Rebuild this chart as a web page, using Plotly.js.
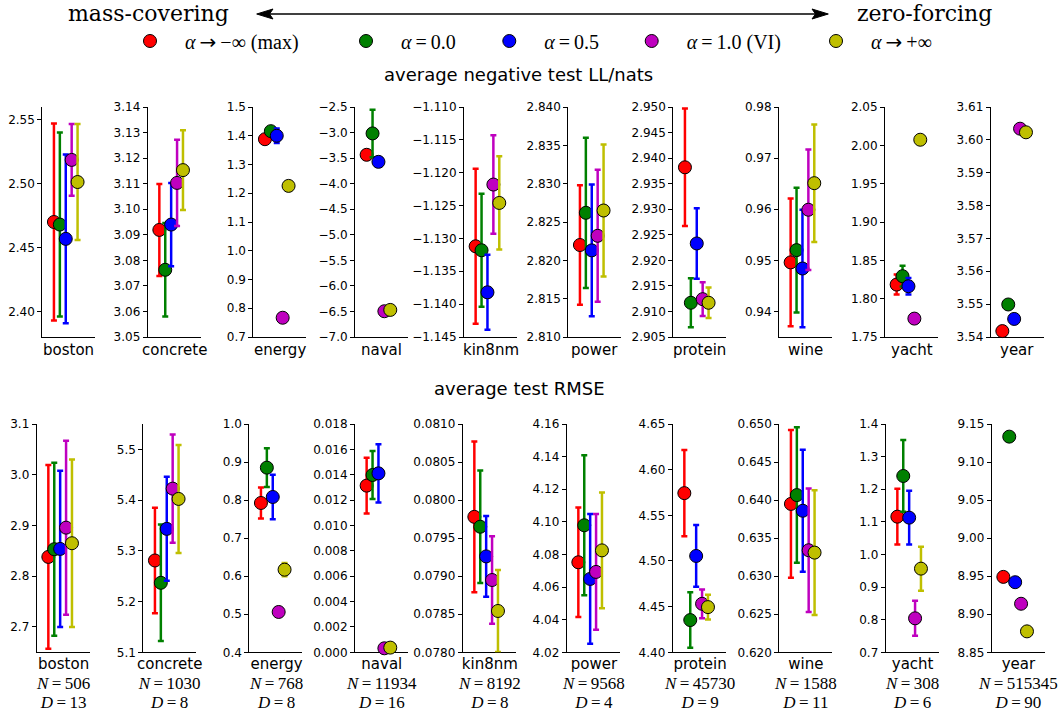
<!DOCTYPE html>
<html><head><meta charset="utf-8">
<script src="https://cdn.plot.ly/plotly-3.0.1.min.js"></script>
<style>html,body{margin:0;padding:0;background:#fff}</style>
</head><body><div id="chart" style="width:1058px;height:713px"></div>
<script>
// ---------------- data ----------------
const datasets = ['boston','concrete','energy','naval','kin8nm','power','protein','wine','yacht','year'];
const sizeN = [506,1030,768,11934,8192,9568,45730,1588,308,515345];
const dimD = [13,8,8,16,8,4,9,11,6,90];
const ARW = '<span style="font-family:DejaVu Sans">→</span>';
const seriesNames = [
  '<i>α</i>\u2009' + ARW + '\u2009−∞ (max)',
  '<i>α</i>\u2009=\u20090.0',
  '<i>α</i>\u2009=\u20090.5',
  '<i>α</i>\u2009=\u20091.0 (VI)',
  '<i>α</i>\u2009' + ARW + '\u2009+∞'
];
const seriesColors = ['#ff0000','#008000','#0000ff','#bf00bf','#bfbf00'];

// average negative test LL / nats
const nllMax    = [2.470, 3.0919, 1.388, -3.435, -1.1312, 2.8220, 2.9382, 0.9496, 1.8184, 3.5418];
const nllMaxErr = [0.077, 0.0180, 0.010, 0.030, 0.0118, 0.0078, 0.0115, 0.0125, 0.0130, 0.0005];
const nll00     = [2.468, 3.0763, 1.416, -3.017, -1.1318, 2.8262, 2.9117, 0.9520, 1.8293, 3.5499];
const nll00Err  = [0.072, 0.0183, 0.012, 0.465, 0.0086, 0.0098, 0.0048, 0.0122, 0.0135, 0.0005];
const nll05     = [2.4568, 3.0940, 1.400, -3.573, -1.1382, 2.8213, 2.9233, 0.9484, 1.8162, 3.5455];
const nll05Err  = [0.066, 0.0163, 0.025, 0.030, 0.0057, 0.0086, 0.0069, 0.0115, 0.0107, 0.0005];
const nllVI     = [2.5186, 3.1103, 0.767, -6.496, -1.1218, 2.8232, 2.9124, 0.9599, 1.774, 3.6034];
const nllVIErr  = [0.028, 0.0169, 0.010, 0.030, 0.0075, 0.0086, 0.0033, 0.0118, 0.005, 0.0005];
const nllInf    = [2.5013, 3.1153, 1.2256, -6.470, -1.1246, 2.8265, 2.9117, 0.9651, 2.0073, 3.6023];
const nllInfErr = [0.0453, 0.0156, 0.010, 0.030, 0.0071, 0.0086, 0.0030, 0.0115, 0.005, 0.0005];

// average test RMSE
const rmseMax    = [2.838, 5.281, 0.7924, 0.01314, 0.07978, 4.0752, 4.5743, 0.6395, 1.1159, 8.9491];
const rmseMaxErr = [0.181, 0.104, 0.041, 0.0022, 0.00099, 0.0336, 0.0473, 0.0097, 0.0855, 0.002];
const rmse00     = [2.8532, 5.237, 0.8853, 0.01398, 0.07965, 4.0979, 4.4353, 0.64066, 1.2406, 9.1334];
const rmse00Err  = [0.1705, 0.1148, 0.051, 0.0019, 0.00074, 0.0429, 0.0304, 0.0089, 0.110, 0.002];
const rmse05     = [2.8538, 5.3433, 0.8082, 0.01411, 0.07926, 4.0650, 4.5055, 0.6386, 1.1129, 8.9421];
const rmse05Err  = [0.154, 0.1025, 0.0587, 0.0023, 0.00053, 0.0398, 0.0338, 0.0080, 0.0825, 0.002];
const rmseVI     = [2.8957, 5.4226, 0.506, 0.000316, 0.07895, 4.0693, 4.4531, 0.63341, 0.8042, 8.9138];
const rmseVIErr  = [0.1715, 0.1065, 0.008, 0.0001, 0.000576, 0.0355, 0.0158, 0.0081, 0.0535, 0.002];
const rmseInf    = [2.865, 5.4023, 0.6172, 0.00037, 0.078543, 4.0825, 4.4495, 0.6331, 0.9565, 8.8775];
const rmseInfErr = [0.165, 0.1065, 0.0175, 0.0001, 0.00054, 0.0355, 0.0136, 0.0082, 0.0675, 0.002];

// axis settings (ranges / tick spacing / tick formats)
const nllRanges = [[2.38,2.56],[3.05,3.14],[0.7,1.5],[-7,-2.5],[-1.145,-1.110],[2.81,2.84],[2.905,2.95],[0.935,0.98],[1.75,2.05],[3.54,3.61]];
const nllDticks = [0.05,0.01,0.1,0.5,0.005,0.005,0.005,0.01,0.05,0.01];
const nllFmts   = ['.2f','.2f','.1f','.1f','.3f','.3f','.3f','.2f','.2f','.2f'];
const rmseRanges = [[2.65,3.1],[5.1,5.55],[0.4,1.0],[0,0.018],[0.078,0.081],[4.02,4.16],[4.40,4.65],[0.62,0.65],[0.7,1.4],[8.85,9.15]];
const rmseDticks = [0.1,0.1,0.1,0.002,0.0005,0.02,0.05,0.005,0.1,0.05];
const rmseFmts   = ['.1f','.1f','.1f','.3f','.4f','.2f','.2f','.3f','.1f','.2f'];

// ---------------- layout helpers ----------------
const W = 1058, H = 713;
const px = v => v / W, py = v => 1 - v / H;
const row1Left = [42.3,147.7,253.3,355,464,568.3,673.3,779,885,990.7];
const row2Left = [36.7,143.3,249.3,355,462.7,566.7,672.7,779.3,885.7,991.7];
const plotW = 53;

const rows = [
  {top:107, bottom:337, left:row1Left,
   means:[nllMax,nll00,nll05,nllVI,nllInf], errs:[nllMaxErr,nll00Err,nll05Err,nllVIErr,nllInfErr],
   ranges:nllRanges, dticks:nllDticks, fmts:nllFmts},
  {top:424, bottom:652.3, left:row2Left,
   means:[rmseMax,rmse00,rmse05,rmseVI,rmseInf], errs:[rmseMaxErr,rmse00Err,rmse05Err,rmseVIErr,rmseInfErr],
   ranges:rmseRanges, dticks:rmseDticks, fmts:rmseFmts}
];

const traces = [];
const annotations = [];
const layout = {
  width: W, height: H, margin:{l:0,r:0,t:0,b:0},
  paper_bgcolor:'#fff', plot_bgcolor:'rgba(0,0,0,0)',
  font:{family:'DejaVu Sans', color:'#000'},
  hovermode:false
};

const SER = 'font-family:Liberation Serif;font-size:17px';
let k = 0;
rows.forEach((row, r) => {
  datasets.forEach((ds, i) => {
    k++;
    const sfx = k === 1 ? '' : String(k);
    layout['xaxis' + sfx] = {
      domain:[px(row.left[i]), px(row.left[i] + plotW)], range:[-1.97, 7.0],
      showline:true, linecolor:'#000', linewidth:1, showticklabels:false, ticks:'',
      showgrid:false, zeroline:false, fixedrange:true, anchor:'y' + sfx, layer:'below traces'
    };
    layout['yaxis' + sfx] = {
      domain:[py(row.bottom), py(row.top)], range:row.ranges[i], dtick:row.dticks[i], tick0:0,
      tickformat:row.fmts[i], showline:true, linecolor:'#000', linewidth:1,
      ticks:'outside', ticklen:4, tickwidth:1, tickcolor:'#000',
      showgrid:false, zeroline:false, fixedrange:true, anchor:'x' + sfx,
      tickfont:{family:'DejaVu Sans', size:12, color:'#000'}, layer:'below traces'
    };
    for (let s = 0; s < 5; s++) {
      traces.push({
        type:'scatter', mode:'markers', x:[s], y:[row.means[s][i]],
        xaxis:'x' + sfx, yaxis:'y' + sfx, name:'\u2002\u2005' + seriesNames[s],
        marker:{color:seriesColors[s], size:13, line:{color:'#000', width:1}},
        error_y:{type:'data', array:[row.errs[s][i]], visible:true, color:seriesColors[s], thickness:2.5, width:3},
        cliponaxis:false, showlegend:k === 1, legend: s === 0 ? 'legend' : 'legend' + (s + 1),
        hoverinfo:'skip'
      });
    }
    const cx = 'x' + sfx + ' domain';
    if (r === 0) {
      annotations.push({xref:cx, yref:'paper', x:0.5, y:py(350), text:ds, showarrow:false,
        xanchor:'center', yanchor:'middle', font:{family:'DejaVu Sans', size:15, color:'#000'}});
    } else {
      annotations.push({xref:cx, yref:'paper', x:0.5, y:py(683.6),
        text: ds + '<br><span style="' + SER + '"><i>N</i>\u2009=\u2009' + sizeN[i] + '</span>' +
              '<br><span style="' + SER + '"><i>D</i>\u2009=\u2009' + dimD[i] + '</span>',
        showarrow:false, xanchor:'center', yanchor:'middle', align:'center',
        font:{family:'DejaVu Sans', size:15, color:'#000'}});
    }
  });
});

// subtitles and header
annotations.push({xref:'paper', yref:'paper', x:px(518), y:py(74), text:'average negative test LL/nats', showarrow:false,
  xanchor:'center', yanchor:'middle', font:{family:'DejaVu Sans', size:18, color:'#000'}});
annotations.push({xref:'paper', yref:'paper', x:px(519), y:py(388), text:'average test RMSE', showarrow:false,
  xanchor:'center', yanchor:'middle', font:{family:'DejaVu Sans', size:18, color:'#000'}});
annotations.push({xref:'paper', yref:'paper', x:px(148.3), y:py(14), text:'mass-covering', showarrow:false,
  xanchor:'center', yanchor:'middle', font:{family:'DejaVu Serif', size:22, color:'#000'}});
annotations.push({xref:'paper', yref:'paper', x:px(924.7), y:py(14), text:'zero-forcing', showarrow:false,
  xanchor:'center', yanchor:'middle', font:{family:'DejaVu Serif', size:22, color:'#000'}});
layout.annotations = annotations;

// double-headed arrow
const P = (x, y) => px(x).toFixed(5) + ',' + py(y).toFixed(5);
layout.shapes = [
  {type:'line', xref:'paper', yref:'paper', x0:px(268), x1:px(817), y0:py(14), y1:py(14), line:{color:'#000', width:1.5}},
  {type:'path', xref:'paper', yref:'paper', path:'M' + P(256.7,14) + 'L' + P(273,9) + 'L' + P(269.5,14) + 'L' + P(273,19) + 'Z',
   fillcolor:'#000', line:{color:'#000', width:1}},
  {type:'path', xref:'paper', yref:'paper', path:'M' + P(828.3,14) + 'L' + P(812,9) + 'L' + P(815.5,14) + 'L' + P(812,19) + 'Z',
   fillcolor:'#000', line:{color:'#000', width:1}}
];

// legends: one per series so each entry sits where it does in the figure
const legendMarkerPx = [150, 366, 509.3, 651.7, 836];
legendMarkerPx.forEach((m, s) => {
  layout[s === 0 ? 'legend' : 'legend' + (s + 1)] = {
    x:px(m - 20), xanchor:'left', y:py(41), yanchor:'middle', orientation:'h',
    font:{family:'Liberation Serif', size:20, color:'#000'}, bgcolor:'rgba(0,0,0,0)', borderwidth:0
  };
});

Plotly.newPlot('chart', traces, layout, {displayModeBar:false, staticPlot:true});
</script>
</body></html>
